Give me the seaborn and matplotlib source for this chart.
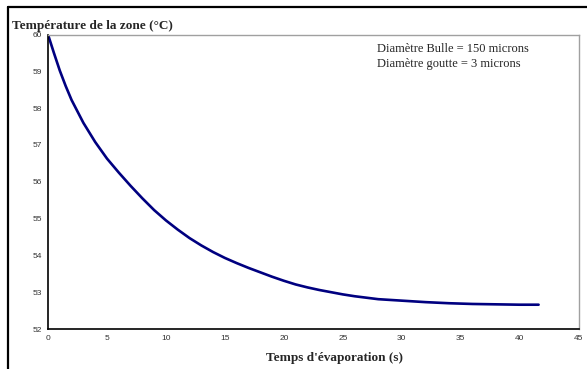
#!/usr/bin/env python3
"""
Zone temperature vs evaporation time (bubble 150 microns, droplet 3 microns).
"""

import matplotlib.pyplot as plt
import pandas as pd
import seaborn as sns
from matplotlib.lines import Line2D

# Values
temps_s = [0, 0.5, 1, 1.5, 2, 3, 4, 5, 6, 7, 8, 9, 10, 11, 12, 13, 14, 15, 16, 17, 18, 19,
           20, 21, 22, 23, 24, 25, 26, 28, 30, 32, 34, 36, 38, 40, 41.6]
temperature_c = [60.00, 59.50, 59.02, 58.60, 58.22, 57.60, 57.08, 56.63, 56.25, 55.89, 55.55,
                 55.23, 54.95, 54.70, 54.47, 54.27, 54.09, 53.93, 53.79, 53.66, 53.54, 53.42,
                 53.31, 53.21, 53.13, 53.06, 53.00, 52.94, 52.89, 52.81, 52.77, 52.73,
                 52.70, 52.68, 52.67, 52.66, 52.66]
x_ticks = [0, 5, 10, 15, 20, 25, 30, 35, 40, 45]
y_ticks = [52, 53, 54, 55, 56, 57, 58, 59, 60]
annotation = ["Diamètre Bulle = 150 microns", "Diamètre goutte = 3 microns"]

SERIF = ["Liberation Serif", "DejaVu Serif"]
SANS = ["Liberation Sans", "DejaVu Sans"]


def main():
    sns.set_style("white")
    plt.rcParams["font.family"] = SANS

    df = pd.DataFrame({"t": temps_s, "T": temperature_c})

    W, H = 587, 369
    fig = plt.figure(figsize=(W / 100, H / 100), dpi=100)
    left, right, top, bottom = 48, 578.7, 34.5, 329
    ax = fig.add_axes([left / W, (H - bottom) / H, (right - left) / W, (bottom - top) / H])

    sns.lineplot(data=df, x="t", y="T", color="#000080", linewidth=1.9, ax=ax)

    ax.set_xlim(0, 45)
    ax.set_ylim(52, 60)
    ax.set_xticks(x_ticks)
    ax.set_yticks(y_ticks)
    ax.set_xlabel("")
    ax.set_ylabel("")
    ax.tick_params(direction="inout", length=4, width=0.9, color="black",
                   labelsize=6, labelcolor="#333333", pad=2)
    for side in ("left", "bottom"):
        ax.spines[side].set_color("black")
        ax.spines[side].set_linewidth(1.2)
    for side in ("top", "right"):
        ax.spines[side].set_color("#a0a0a0")
        ax.spines[side].set_linewidth(1.0)

    # Titles as placed in the original
    fig.text(12 / W, (H - 29) / H, "Température de la zone (°C)", family=SERIF,
             fontweight="bold", fontsize=9.5, va="baseline", ha="left")
    fig.text(334.5 / W, (H - 361.5) / H, "Temps d'évaporation (s)", family=SERIF,
             fontweight="bold", fontsize=9.5, va="baseline", ha="center")
    fig.text(376.7 / W, (H - 51.7) / H, annotation[0], family=SERIF,
             fontsize=9, va="baseline", ha="left")
    fig.text(376.7 / W, (H - 66.7) / H, annotation[1], family=SERIF,
             fontsize=9, va="baseline", ha="left")

    # Outer frame (left and top edges visible)
    fig.add_artist(Line2D([7.5 / W, 7.5 / W], [0, (H - 6.5) / H], transform=fig.transFigure,
                          color="black", linewidth=1.6))
    fig.add_artist(Line2D([7.5 / W, 1], [(H - 6.5) / H, (H - 6.5) / H], transform=fig.transFigure,
                          color="black", linewidth=1.6))

    fig.savefig("out.png", dpi=100)


if __name__ == "__main__":
    main()
